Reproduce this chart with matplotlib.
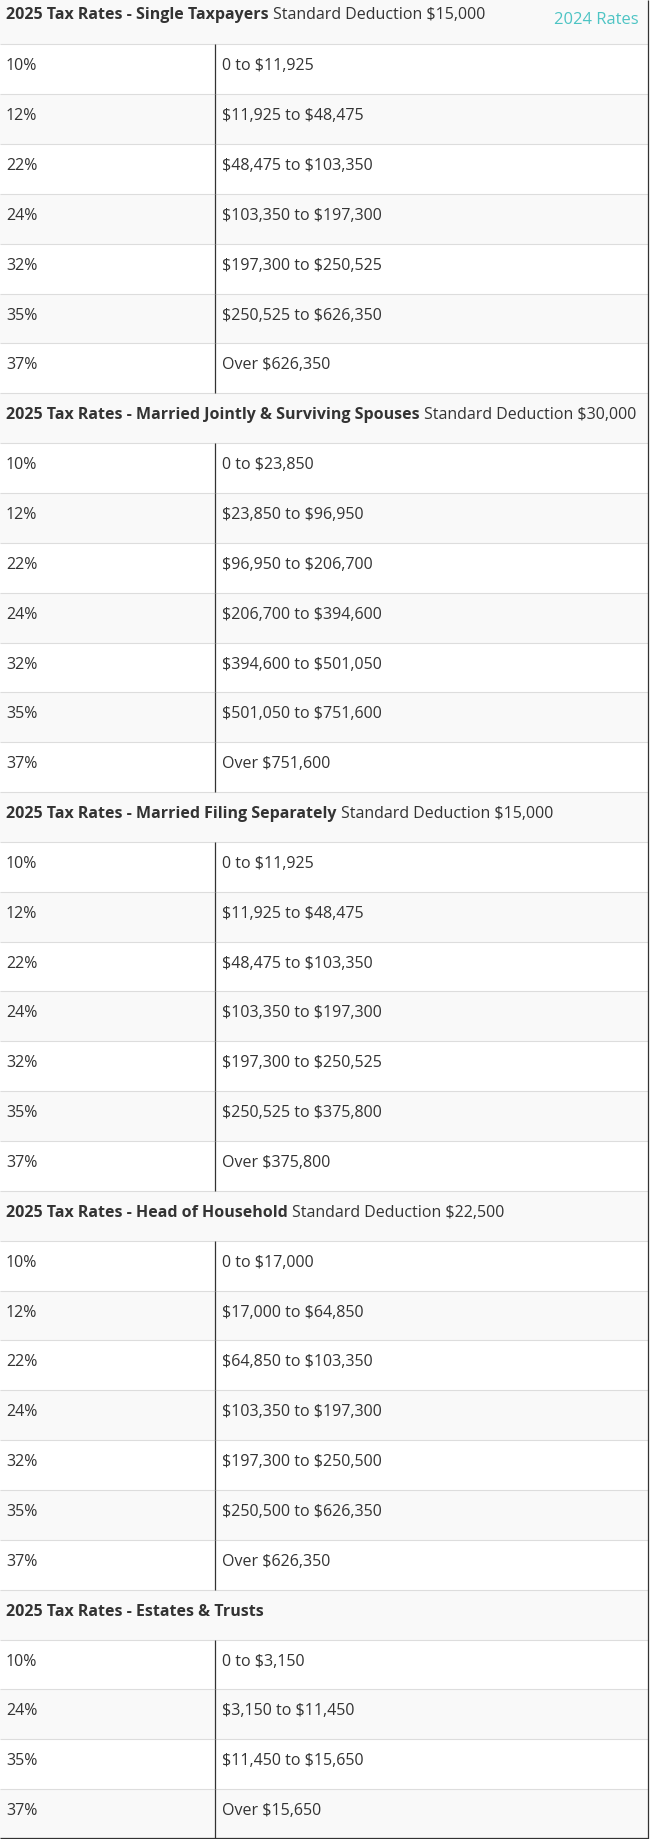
import matplotlib.pyplot as plt

# 2025 federal tax brackets, one block per filing status
single_rates = ["10%", "12%", "22%", "24%", "32%", "35%", "37%"]
single_brackets = ["0 to $11,925", "$11,925 to $48,475", "$48,475 to $103,350",
                   "$103,350 to $197,300", "$197,300 to $250,525",
                   "$250,525 to $626,350", "Over $626,350"]

joint_rates = ["10%", "12%", "22%", "24%", "32%", "35%", "37%"]
joint_brackets = ["0 to $23,850", "$23,850 to $96,950", "$96,950 to $206,700",
                  "$206,700 to $394,600", "$394,600 to $501,050",
                  "$501,050 to $751,600", "Over $751,600"]

separate_rates = ["10%", "12%", "22%", "24%", "32%", "35%", "37%"]
separate_brackets = ["0 to $11,925", "$11,925 to $48,475", "$48,475 to $103,350",
                     "$103,350 to $197,300", "$197,300 to $250,525",
                     "$250,525 to $375,800", "Over $375,800"]

household_rates = ["10%", "12%", "22%", "24%", "32%", "35%", "37%"]
household_brackets = ["0 to $17,000", "$17,000 to $64,850", "$64,850 to $103,350",
                      "$103,350 to $197,300", "$197,300 to $250,500",
                      "$250,500 to $626,350", "Over $626,350"]

estate_rates = ["10%", "24%", "35%", "37%"]
estate_brackets = ["0 to $3,150", "$3,150 to $11,450", "$11,450 to $15,650",
                   "Over $15,650"]

titles = ["2025 Tax Rates - Single Taxpayers",
          "2025 Tax Rates - Married Jointly & Surviving Spouses",
          "2025 Tax Rates - Married Filing Separately",
          "2025 Tax Rates - Head of Household",
          "2025 Tax Rates - Estates & Trusts"]
deductions = ["Standard Deduction $15,000", "Standard Deduction $30,000",
              "Standard Deduction $15,000", "Standard Deduction $22,500", ""]

sections = list(zip(titles, deductions,
                    [single_rates, joint_rates, separate_rates, household_rates, estate_rates],
                    [single_brackets, joint_brackets, separate_brackets,
                     household_brackets, estate_brackets]))

W, H = 650, 1839
ROW_H = 49.85
TOP = -5.55
TABLE_R = 647.5
COL_X = 214.5
FS = 11.5          # ~16px
TXT = "#333333"
GRAY = "#f9f9f9"

plt.rcParams["font.family"] = ["Open Sans", "DejaVu Sans"]

# flatten sections into table rows
rows = []
for title, note, rates, brackets in sections:
    rows.append(("head", title, note, GRAY))
    for i, (r, b) in enumerate(zip(rates, brackets)):
        rows.append(("data", r, b, "#ffffff" if i % 2 == 0 else GRAY))

tops = [TOP + k * ROW_H for k in range(len(rows))]
bottom = tops[-1] + ROW_H

fig = plt.figure(figsize=(W / 100, H / 100), dpi=100)
ax = fig.add_axes([0, 0, 1, 1])
ax.set_xlim(0, W)
ax.set_ylim(H, 0)
ax.axis("off")

# row backgrounds
ax.barh([t + ROW_H / 2 for t in tops], TABLE_R, height=ROW_H, left=0,
        color=[r[3] for r in rows], linewidth=0, zorder=0)

# light separators between rows
ax.hlines(tops[1:], 0, TABLE_R, color="#dddddd", lw=0.8, zorder=1)

# dark column divider only in data rows
for (kind, *_), t in zip(rows, tops):
    if kind == "data":
        ax.vlines(COL_X, t, t + ROW_H, color="#333333", lw=0.9, zorder=2)

ax.vlines(TABLE_R, 0, bottom, color="#333333", lw=0.9, zorder=2)
ax.hlines(bottom - 0.6, 0, TABLE_R, color="#333333", lw=0.9, zorder=2)

fig.canvas.draw()
inv = ax.transData.inverted()

for (kind, left, right, _), t in zip(rows, tops):
    base = t + 26
    if kind == "data":
        ax.text(6, base, left, fontsize=FS, color=TXT, va="baseline",
                parse_math=False)
        ax.text(222.5, base, right, fontsize=FS, color=TXT, va="baseline",
                parse_math=False)
    else:
        if t < 0:
            base = 19.3
        t1 = ax.text(6, base, left, fontsize=FS, color=TXT, va="baseline",
                     weight="bold", parse_math=False)
        if right:
            bb = t1.get_window_extent(renderer=fig.canvas.get_renderer())
            x_end = inv.transform((bb.x1, 0))[0]
            ax.text(x_end + 4.5, base, right, fontsize=FS, color=TXT,
                    va="baseline", parse_math=False)

ax.text(639, 24.3, "2024 Rates", fontsize=11.9, color="#4dc4c4",
        ha="right", va="baseline")

fig.savefig("out.png", dpi=100)
